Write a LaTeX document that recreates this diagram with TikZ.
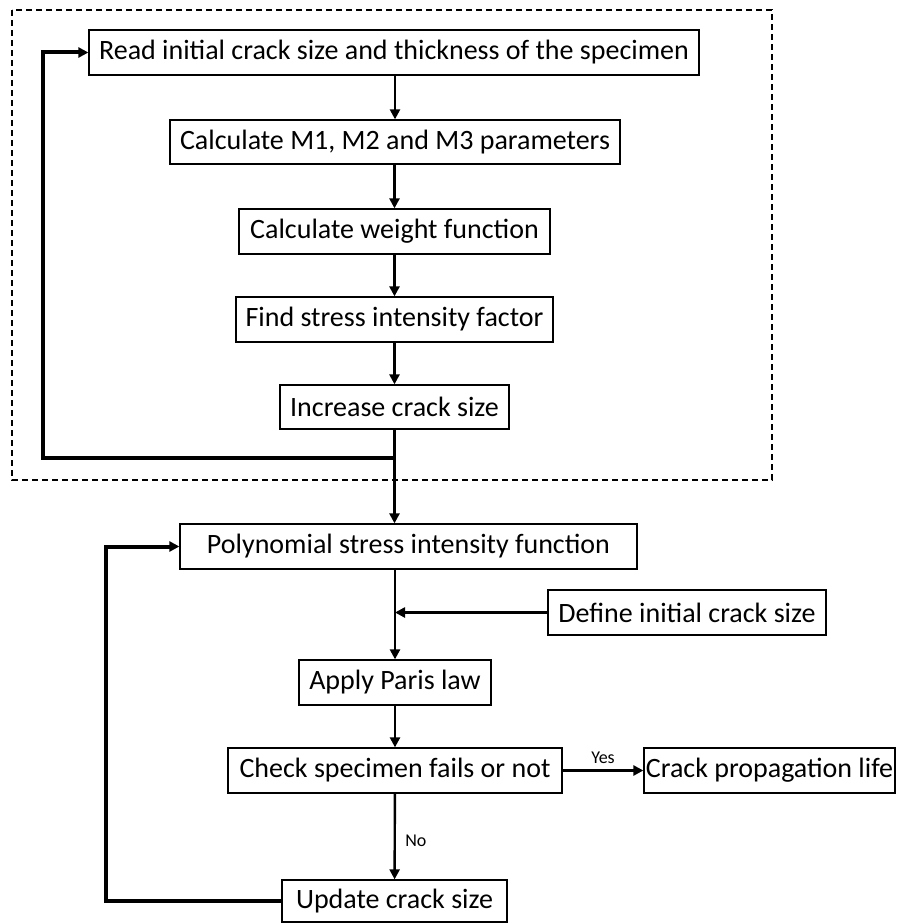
\documentclass[tikz,border=0pt]{standalone}
\usepackage{fontspec}
\setmainfont{Carlito}
\usepackage{tikz}
\usetikzlibrary{arrows.meta}

\begin{document}
\begin{tikzpicture}[x=1pt,y=-1pt,
    every node/.style={font=\fontsize{28}{33}\selectfont},
    blk/.style={draw,line width=1.3pt,minimum height=45pt,inner sep=0pt},
    arr/.style={line width=2.4pt,-{Triangle[length=10pt,width=10pt]}},
    side/.style={line width=3pt,-{Triangle[length=10pt,width=10pt]}},
    fb/.style={line width=4pt,-{Triangle[length=10pt,width=10pt]}},
    lbl/.style={font=\fontsize{18}{21}\selectfont}]
        \useasboundingbox (0,0) rectangle (905,923);

        % the dashed frame
        \draw[line width=1.3pt,dash pattern=on 6pt off 4pt] (12,10) rectangle (772,480);

        %% the boxes
        \node[blk,minimum width=610pt] (read) at (394,52.5) {Read initial crack size and thickness of the specimen};
        \node[blk,minimum width=450pt,minimum height=44pt] (calc) at (395,142) {Calculate M1, M2 and M3 parameters};
        \node[blk,minimum width=311pt] (weight) at (394.5,231.5) {Calculate weight function};
        \node[blk,minimum width=317pt] (find) at (394.5,319.5) {Find stress intensity factor};
        \node[blk,minimum width=229pt,minimum height=44pt] (incr) at (394.5,407) {Increase crack size};
        \node[blk,minimum width=457pt] (poly) at (408.5,546.5) {Polynomial stress intensity function};
        \node[blk,minimum width=278pt] (define) at (687,612.5) {Define initial crack size};
        \node[blk,minimum width=192pt] (paris) at (395,682.5) {Apply Paris law};
        \node[blk,minimum width=334pt] (check) at (395,770.5) {Check specimen fails or not};
        \node[blk,minimum width=251pt] (life) at (769.5,770.5) {Crack propagation life};
        \node[blk,minimum width=225pt,minimum height=42pt] (update) at (394.5,901) {Update crack size};

        % turning points
        \coordinate (j1) at (395,458);
        \coordinate (l1) at (43,52.5);
        \coordinate (l2) at (106,546.5);

        %% the arrows
        \draw[arr] (read.south -| calc.north) -- (calc.north);
        \draw[arr] (calc.south -| weight.north) -- (weight.north);
        \draw[arr] (weight) -- (find);
        \draw[arr] (find) -- (incr);
        \draw[arr] (incr.south) -- (poly.north -| incr.south);
        \draw[arr] (poly.south -| paris.north) -- (paris.north);
        \draw[side] (define.west) -- (define.west -| paris.north);
        \draw[arr] (paris) -- (check);
        \draw[arr] (check) -- node[lbl,right=6pt,pos=0.55]{No} (update);
        \draw[side] (check) -- node[lbl,above=2pt]{Yes} (life);

        % feedback loops
        \draw[fb] (j1) -| (l1) -- (read.west);
        \draw[fb] (update.west) -| (l2) -- (poly.west);
      \end{tikzpicture}
\end{document}
